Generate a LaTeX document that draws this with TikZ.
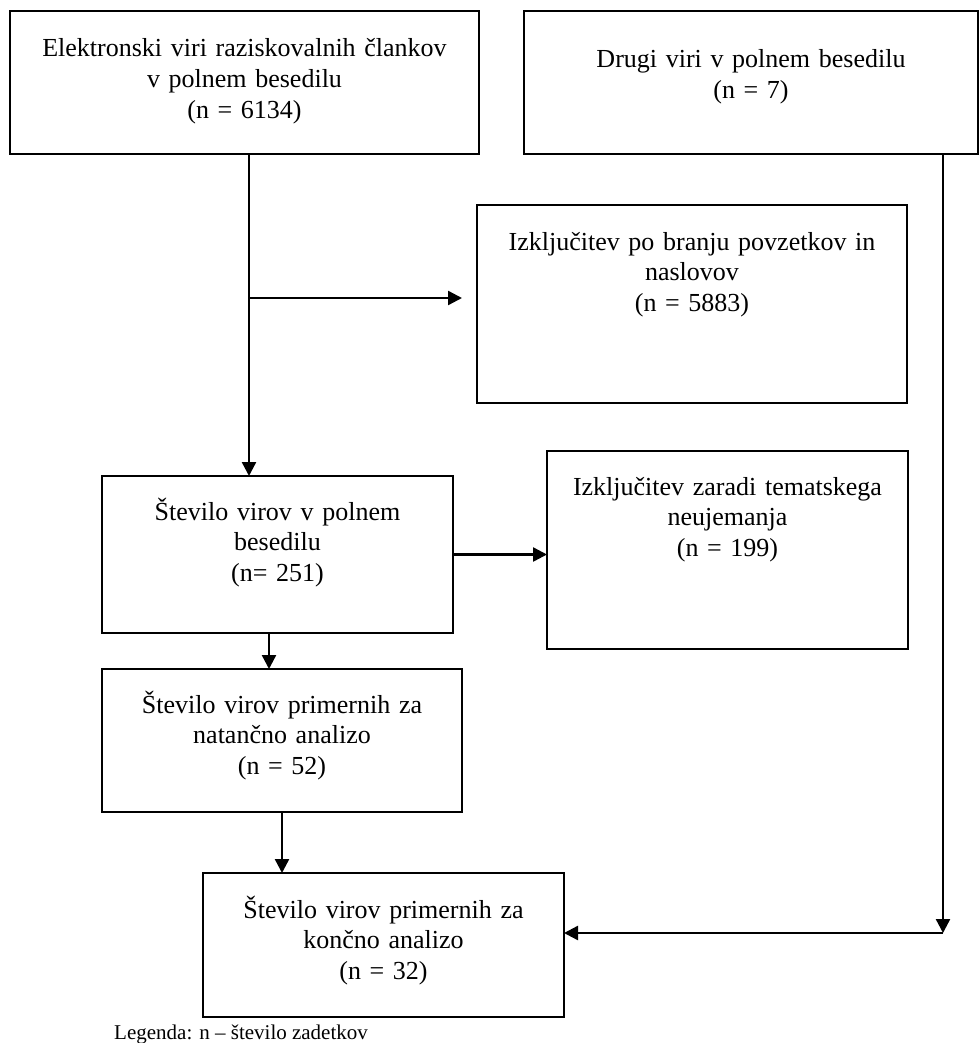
\documentclass[tikz,border=0pt]{standalone}
\usepackage{fontspec}
\setmainfont{Liberation Serif}
\usetikzlibrary{arrows.meta,calc}
\begin{document}
\begin{tikzpicture}[x=1pt,y=-1pt,
  box/.style={draw, line width=1.8pt, inner sep=0pt, outer sep=0pt, anchor=north west},
  txt/.style={anchor=base, inner sep=0pt, text width=470pt, align=center,
              font=\fontsize{26}{30.8}\selectfont},
  arr/.style={-{Triangle[length=14pt,width=14pt]}, line width=2.4pt}]
\useasboundingbox (0,0) rectangle (979,1043);

% boxes
\node[box, minimum width=469pt, minimum height=143pt] (b1) at (10,11) {};
\node[box, minimum width=454pt, minimum height=143pt] (b2) at (524,11) {};
\node[box, minimum width=430pt, minimum height=198pt] (b3) at (477,205) {};
\node[box, minimum width=351pt, minimum height=157pt] (b4) at (102,476) {};
\node[box, minimum width=361pt, minimum height=198pt] (b5) at (547,451) {};
\node[box, minimum width=360pt, minimum height=143pt] (b6) at (102,669) {};
\node[box, minimum width=361pt, minimum height=144pt] (b7) at (203,873) {};

% texts
\node[txt] (t1) at (244.5,57) {Elektronski viri raziskovalnih člankov\\v polnem besedilu\\(n = 6134)};
\node[txt] (t2) at (751,68) {Drugi viri v polnem besedilu\\(n = 7)};
\node[txt] (t3) at (692,250) {Izključitev po branju povzetkov in\\naslovov\\(n = 5883)};
\node[txt] (t4) at (277.5,520) {Število virov v polnem\\besedilu\\(n= 251)};
\node[txt] (t5) at (727.5,495) {Izključitev zaradi tematskega\\neujemanja\\(n = 199)};
\node[txt] (t6) at (282,713) {Število virov primernih za\\natančno analizo\\(n = 52)};
\node[txt] (t7) at (383.5,918) {Število virov primernih za\\končno analizo\\(n = 32)};
\node[anchor=base west, inner sep=0pt, font=\fontsize{21}{25}\selectfont] (leg) at (114,1039) {Legenda: n – število zadetkov};

% connectors
\coordinate (j1) at (249,298);
\coordinate (e3) at (462,298);
\coordinate (c2) at (943,933);
\draw[arr] (b1.south -| j1) -- (b4.north -| j1);
\draw[arr] (j1) -- (e3);
\draw[arr] (b4.east) -- (b4.east -| b5.west);
\draw[arr] ([xshift=-8.5pt]b4.south) -- ([xshift=-8.5pt]b4.south |- b6.north);
\draw[arr] (b6.south) -- (b6.south |- b7.north);
\draw[arr] (b2.south -| c2) -- (c2);
\draw[arr] (c2) -- (c2 -| b7.east);
\end{tikzpicture}
\end{document}
